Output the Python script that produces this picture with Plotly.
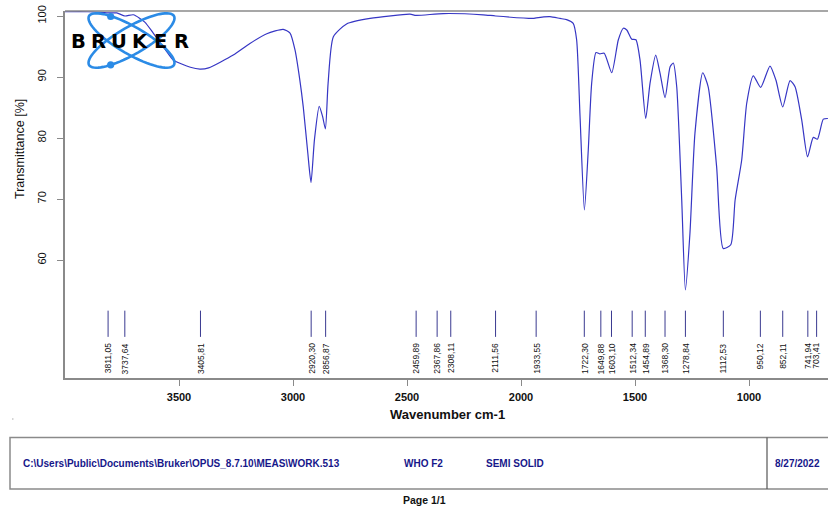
import plotly.graph_objects as go
import numpy as np

# ---------------- data ----------------
wavenumber = [4000, 3900, 3840, 3811, 3773, 3737, 3700, 3650, 3613, 3560, 3525, 3450, 3408,
              3370, 3262, 3189, 3115, 3043, 3013, 2991, 2970, 2955, 2935, 2921, 2906, 2885,
              2870, 2858, 2846, 2823, 2765, 2662, 2487, 2460, 2341, 2166, 2111, 1947, 1933,
              1873, 1829, 1800, 1771, 1756, 1741, 1722, 1705, 1690, 1671, 1654, 1635, 1602,
              1573, 1551, 1536, 1514, 1496, 1478, 1453, 1434, 1409, 1390, 1368, 1346, 1332,
              1317, 1295, 1279, 1259, 1237, 1203, 1179, 1142, 1113, 1080, 1061, 1032, 1010,
              981, 949, 908, 882, 852, 820, 798, 769, 743, 718, 700, 674, 654]
transmittance = [100.7, 100.7, 100.6, 100.5, 100.5, 100.0, 100.2, 99.0, 97.2, 94.5, 92.8, 91.6, 91.3,
                 91.5, 93.6, 95.5, 97.1, 97.8, 97.2, 94.4, 89.5, 85.1, 77.5, 72.7, 79.7, 85.2,
                 83.5, 81.5, 89.0, 96.6, 98.7, 99.6, 100.3, 100.1, 100.4, 100.2, 100.0, 99.6, 99.7,
                 99.9, 99.6, 99.4, 98.8, 96.1, 83.5, 68.2, 78.0, 89.0, 94.0, 93.8, 93.9, 90.7,
                 96.1, 98.0, 97.7, 96.2, 96.1, 92.8, 83.2, 89.0, 93.6, 90.6, 86.6, 91.7, 92.3,
                 88.4, 69.8, 55.1, 64.4, 80.8, 90.7, 88.4, 75.3, 61.9, 62.5, 69.8, 76.4, 85.7,
                 90.2, 88.3, 91.8, 89.5, 85.1, 89.4, 88.4, 83.0, 76.9, 80.1, 79.8, 83.1, 83.2]

peak_wavenumbers = [3811.05, 3737.64, 3405.81, 2920.30, 2856.87, 2459.89, 2367.86, 2308.11,
                    2111.56, 1933.55, 1722.30, 1649.88, 1603.10, 1512.34, 1454.89, 1368.30,
                    1278.84, 1112.53, 950.12, 852.11, 741.94, 703.41]
peak_labels = ["3811,05", "3737,64", "3405,81", "2920,30", "2856,87", "2459,89", "2367,86",
               "2308,11", "2111,56", "1933,55", "1722,30", "1649,88", "1603,10", "1512,34",
               "1454,89", "1368,30", "1278,84", "1112,53", "950,12", "852,11", "741,94", "703,41"]

x_ticks = [3500, 3000, 2500, 2000, 1500, 1000]
y_ticks = [60, 70, 80, 90, 100]

footer_path = "C:\\Users\\Public\\Documents\\Bruker\\OPUS_8.7.10\\MEAS\\WORK.513"
footer_sample = "WHO F2"
footer_form = "SEMI SOLID"
footer_date = "8/27/2022"

# ---------------- layout geometry ----------------
W, H = 828, 507
L, R, T, B = 65, 828, 11, 378
X_RANGE = [4000, 653.5]
Y_RANGE = [40.66, 100.82]
FONT = "Arial, Liberation Sans, sans-serif"
CURVE = "#3636c4"
GRAY = "#8a8a8a"
NAVY = "#17178a"


def px(x):
    return (x - L) / (R - L)


def py(y):
    return (B - y) / (B - T)


fig = go.Figure()

fig.add_trace(go.Scatter(x=wavenumber, y=transmittance, mode="lines",
                         line=dict(color=CURVE, width=1.2, shape="spline", smoothing=0.6),
                         hoverinfo="skip", showlegend=False))

# peak marker lines
LINE_TOP, LINE_BOT, TEXT_TOP = 51.7, 47.4, 46.7
lx, ly = [], []
for w in peak_wavenumbers:
    lx += [w, w, None]
    ly += [LINE_TOP, LINE_BOT, None]
fig.add_trace(go.Scatter(x=lx, y=ly, mode="lines", line=dict(color="#3a3a90", width=1),
                         hoverinfo="skip", showlegend=False))

annotations = []
for w, lab in zip(peak_wavenumbers, peak_labels):
    annotations.append(dict(x=w, y=TEXT_TOP, xref="x", yref="y", text=lab, showarrow=False,
                            textangle=-90, xanchor="center", yanchor="top",
                            font=dict(family=FONT, size=8.5, color="#111111")))

# axis titles
annotations.append(dict(x=px(447), y=py(414), xref="paper", yref="paper", text="Wavenumber cm-1",
                        showarrow=False, xanchor="center", yanchor="middle",
                        font=dict(family=FONT, size=13, color="#111111", weight="bold")))
annotations.append(dict(x=px(20), y=py(149), xref="paper", yref="paper", text="Transmittance [%]",
                        showarrow=False, textangle=-90, xanchor="center", yanchor="middle",
                        font=dict(family=FONT, size=12.5, color="#111111")))

# footer texts
FOOT = dict(family=FONT, size=10, color=NAVY, weight="bold")
annotations += [
    dict(x=px(21), y=py(463), xref="paper", yref="paper", text=footer_path, showarrow=False,
         xanchor="left", yanchor="middle", font=FOOT),
    dict(x=px(402), y=py(463), xref="paper", yref="paper", text=footer_sample, showarrow=False,
         xanchor="left", yanchor="middle", font=FOOT),
    dict(x=px(484), y=py(463), xref="paper", yref="paper", text=footer_form, showarrow=False,
         xanchor="left", yanchor="middle", font=FOOT),
    dict(x=px(773), y=py(463), xref="paper", yref="paper", text=footer_date, showarrow=False,
         xanchor="left", yanchor="middle", font=FOOT),
    dict(x=px(424), y=py(500), xref="paper", yref="paper", text="Page 1/1", showarrow=False,
         xanchor="center", yanchor="middle", font=dict(family=FONT, size=10.5, color="#111111", weight="bold")),
]

# BRUKER logo letters
for i, ch in enumerate("BRUKER"):
    annotations.append(dict(x=px(78 + i * 20.6), y=py(41), xref="paper", yref="paper", text=ch,
                            showarrow=False, xanchor="center", yanchor="middle",
                            font=dict(family="DejaVu Sans, Arial", size=19.5, color="#000000", weight="bold")))

shapes = []
# frame: top line
shapes.append(dict(type="line", xref="paper", yref="paper", x0=0, x1=1.01, y0=1, y1=1,
                   line=dict(color=GRAY, width=1.5)))
# footer box
bx0, bx1, by0, by1 = 10, 840, 437.5, 489
shapes.append(dict(type="rect", xref="paper", yref="paper", x0=px(bx0), x1=px(bx1), y0=py(by1), y1=py(by0),
                   line=dict(color=GRAY, width=1.5)))
shapes.append(dict(type="line", xref="paper", yref="paper", x0=px(767), x1=px(767), y0=py(by1), y1=py(by0),
                   line=dict(color="#555555", width=1.2)))
# tiny mark at left
shapes.append(dict(type="line", xref="paper", yref="paper", x0=px(12), x1=px(13.5), y0=py(419), y1=py(419),
                   line=dict(color="#aaaaaa", width=1)))

# logo orbits (two tilted ellipses) and electrons
cx, cy, a, b = 131.5, 40.5, 49.0, 13.7
t = np.linspace(0, 2 * np.pi, 73)
for ang in (np.deg2rad(30), np.deg2rad(-30)):
    ex = cx + a * np.cos(t) * np.cos(ang) - b * np.sin(t) * np.sin(ang)
    ey = cy + a * np.cos(t) * np.sin(ang) + b * np.sin(t) * np.cos(ang)
    path = "M " + " L ".join(f"{px(xx):.5f},{py(yy):.5f}" for xx, yy in zip(ex, ey)) + " Z"
    shapes.append(dict(type="path", xref="paper", yref="paper", path=path,
                       line=dict(color="#2b8be6", width=2.6), layer="above"))
for (dx, dy) in ((110.7, 16.5), (110.7, 64.8)):
    shapes.append(dict(type="circle", xref="paper", yref="paper", x0=px(dx - 3.6), x1=px(dx + 3.6),
                       y0=py(dy + 3.6), y1=py(dy - 3.6), fillcolor="#2b8be6",
                       line=dict(color="#2b8be6", width=0), layer="above"))

fig.update_layout(
    width=W, height=H,
    margin=dict(l=L, r=W - R, t=T, b=H - B),
    paper_bgcolor="white", plot_bgcolor="white",
    showlegend=False,
    xaxis=dict(range=X_RANGE, tickvals=x_ticks, ticktext=[str(v) for v in x_ticks],
               ticks="outside", ticklen=6, tickcolor=GRAY, tickwidth=1.2,
               showline=True, linecolor=GRAY, linewidth=1.5, mirror=False,
               showgrid=False, zeroline=False, ticklabelstandoff=2,
               tickfont=dict(family=FONT, size=11, color="#111111", weight="bold")),
    yaxis=dict(range=Y_RANGE, tickvals=y_ticks, ticktext=[str(v) for v in y_ticks],
               tickangle=-90, ticks="outside", ticklen=6, tickcolor=GRAY, tickwidth=1.2,
               showline=True, linecolor=GRAY, linewidth=1.5, mirror=False,
               showgrid=False, zeroline=False, ticklabelstandoff=7,
               tickfont=dict(family=FONT, size=11, color="#111111")),
    annotations=annotations,
    shapes=shapes,
)

fig.write_html("out.html", config={"displayModeBar": False},
               post_script="document.body.style.margin='0';document.body.style.overflow='hidden';")
